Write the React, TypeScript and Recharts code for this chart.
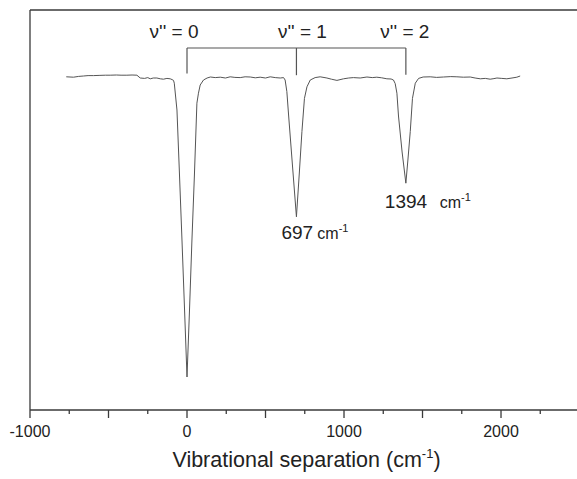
import {
  Line,
  LineChart,
  ReferenceDot,
  ReferenceLine,
  XAxis,
  YAxis,
  Label,
} from "recharts";

// vibrational separation (cm-1)
const separation = [
  -769, -723, -690, -659, -630, -596, -560, -520, -489, -450, -420, -383, -350,
  -319, -298, -270, -250, -234, -215, -192, -170, -150, -128, -107, -95, -86,
  -81, -64, -48, -32, -16, 0, 16, 31, 47, 63, 73, 84, 105, 128, 149, 180, 212,
  245, 275, 305, 339, 370, 403, 435, 466, 500, 530, 562, 594, 615, 625, 636,
  647, 672, 697, 715, 732, 748, 764, 785, 816, 848, 891, 920, 955, 997, 1030,
  1060, 1103, 1146, 1180, 1209, 1240, 1273, 1300, 1315, 1326, 1337, 1347, 1370,
  1394, 1408, 1422, 1436, 1454, 1475, 1504, 1549, 1590, 1634, 1680, 1719, 1760,
  1804, 1835, 1868, 1900, 1931, 1955, 1974, 2005, 2037, 2070, 2101, 2122,
];

// relative signal (arb. units)
const signal = [
  83.3, 83.2, 83.4, 83.5, 83.6, 83.6, 83.65, 83.7, 83.7, 83.75, 83.7, 83.7,
  83.75, 83.7, 83.0, 82.9, 83.1, 82.8, 83.0, 83.0, 82.8, 82.7, 82.9, 82.8, 82.6,
  82.4, 81.7, 75, 59, 42.5, 25.5, 8.25, 25, 42, 58.5, 76.7, 79.2, 81.25, 82.5,
  83.0, 83.25, 83.1, 83.2, 83.0, 83.3, 83.15, 83.1, 83.3, 83.25, 83.05, 83.2,
  83.0, 83.3, 83.1, 83.0, 83.1, 82.5, 79.6, 73.75, 61, 48.3, 59, 69.6, 77.9,
  80.8, 82.5, 83.1, 83.3, 83.0, 82.7, 82.4, 82.8, 83.0, 83.1, 83.0, 83.25, 83.1,
  83.2, 83.05, 82.8, 82.75, 82.5, 81.6, 79.2, 73.5, 64.5, 56.7, 63, 69.6, 77.9,
  81.7, 82.9, 83.25, 83.3, 83.15, 83.25, 83.35, 83.3, 83.2, 83.25, 83.0, 82.8,
  82.9, 82.7, 82.85, 83.0, 82.9, 82.8, 83.0, 83.2, 83.5,
];

const xTicks = [
  -1000, -750, -500, -250, 0, 250, 500, 750, 1000, 1250, 1500, 1750, 2000, 2250,
];

const peakPositions = [0, 697, 1394];
const levelNames = ["ν'' = 0", "ν'' = 1", "ν'' = 2"];
const peakLabels = ["697", "1394"];

const data = separation.map((x, i) => ({ x, y: signal[i] }));

const FONT = "'Liberation Sans', Arial, sans-serif";
const AXIS = "#3a3a3a";
const BRACKET_Y = 90.5;
const BRACKET_FOOT = [84.1, 83.7, 83.8];

const AxisTick = (props: any) => {
  const { x, y, payload } = props;
  const v = payload.value;
  const major = v % 500 === 0;
  return (
    <g>
      <line x1={x} x2={x} y1={y} y2={y + (major ? 8 : 4)} stroke={AXIS} strokeWidth={1.3} />
      {v % 1000 === 0 && (
        <text x={x} y={y + 27} textAnchor="middle" fontSize={16} fill="#222" fontFamily={FONT}>
          {v}
        </text>
      )}
    </g>
  );
};

const levelDx = [-13, 6, -1];
const peakDx = [-15, -21];
const peakDy = [22, 25];
const unitDx = [36, 55];

const App = () => {
  return (
    <div style={{ position: "absolute", left: 0, top: 0, width: 577, height: 479 }}>
      <LineChart
        width={577}
        height={479}
        data={data}
        margin={{ top: 10, right: 0, left: 30, bottom: 0 }}
      >
        <XAxis
          dataKey="x"
          type="number"
          domain={[-1000, 2484]}
          ticks={xTicks}
          interval={0}
          allowDataOverflow
          height={69}
          tickLine={false}
          tickSize={0}
          tickMargin={0}
          axisLine={{ stroke: AXIS, strokeWidth: 1.3 }}
          tick={<AxisTick />}
        >
          <Label
            content={({ viewBox }: any) => (
              <text
                x={viewBox.x + viewBox.width / 2 + 3}
                y={viewBox.y + 57}
                textAnchor="middle"
                fontSize={21.5}
                fill="#222"
                fontFamily={FONT}
              >
                Vibrational separation (cm
                <tspan dy={-9} fontSize={13}>-1</tspan>
                <tspan dy={9}>)</tspan>
              </text>
            )}
          />
        </XAxis>
        <YAxis type="number" domain={[0, 100]} hide />
        <ReferenceLine y={100} stroke={AXIS} strokeWidth={1.3} />
        <ReferenceLine x={-1000} stroke={AXIS} strokeWidth={1.3} />
        <ReferenceLine
          segment={[
            { x: peakPositions[0], y: BRACKET_Y },
            { x: peakPositions[2], y: BRACKET_Y },
          ]}
          stroke="#555"
          strokeWidth={1.2}
        />
        {peakPositions.map((p, i) => (
          <ReferenceLine
            key={"foot" + p}
            segment={[
              { x: p, y: BRACKET_Y },
              { x: p, y: BRACKET_FOOT[i] },
            ]}
            stroke="#555"
            strokeWidth={1.2}
          />
        ))}
        {peakPositions.map((p, i) => (
          <ReferenceDot
            key={"lvl" + p}
            x={p}
            y={BRACKET_Y}
            r={1}
            fill="none"
            stroke="none"
            label={{
              content: ({ viewBox }: any) => (
                <text
                  x={viewBox.x + 1 + levelDx[i]}
                  y={viewBox.y - 9}
                  textAnchor="middle"
                  fontSize={19}
                  fill="#222"
                  fontFamily={FONT}
                >
                  {levelNames[i]}
                </text>
              ),
            }}
          />
        ))}
        {peakLabels.map((t, i) => {
          const p = peakPositions[i + 1];
          const yv = signal[separation.indexOf(p)];
          return (
            <ReferenceDot
              key={"pk" + t}
              x={p}
              y={yv}
              r={1}
              fill="none"
              stroke="none"
              label={{
                content: ({ viewBox }: any) => (
                  <text
                    x={viewBox.x + 1 + peakDx[i]}
                    y={viewBox.y + 1 + peakDy[i]}
                    fontSize={19}
                    fill="#222"
                    fontFamily={FONT}
                  >
                    {t}
                    <tspan dx={unitDx[i] - t.length * 10.6} fontSize={16}>cm</tspan>
                    <tspan dy={-7} fontSize={11}>-1</tspan>
                  </text>
                ),
              }}
            />
          );
        })}
        <Line
          type="linear"
          dataKey="y"
          stroke="#555"
          strokeWidth={1}
          dot={false}
          isAnimationActive={false}
        />
      </LineChart>
    </div>
  );
};

export default App;
